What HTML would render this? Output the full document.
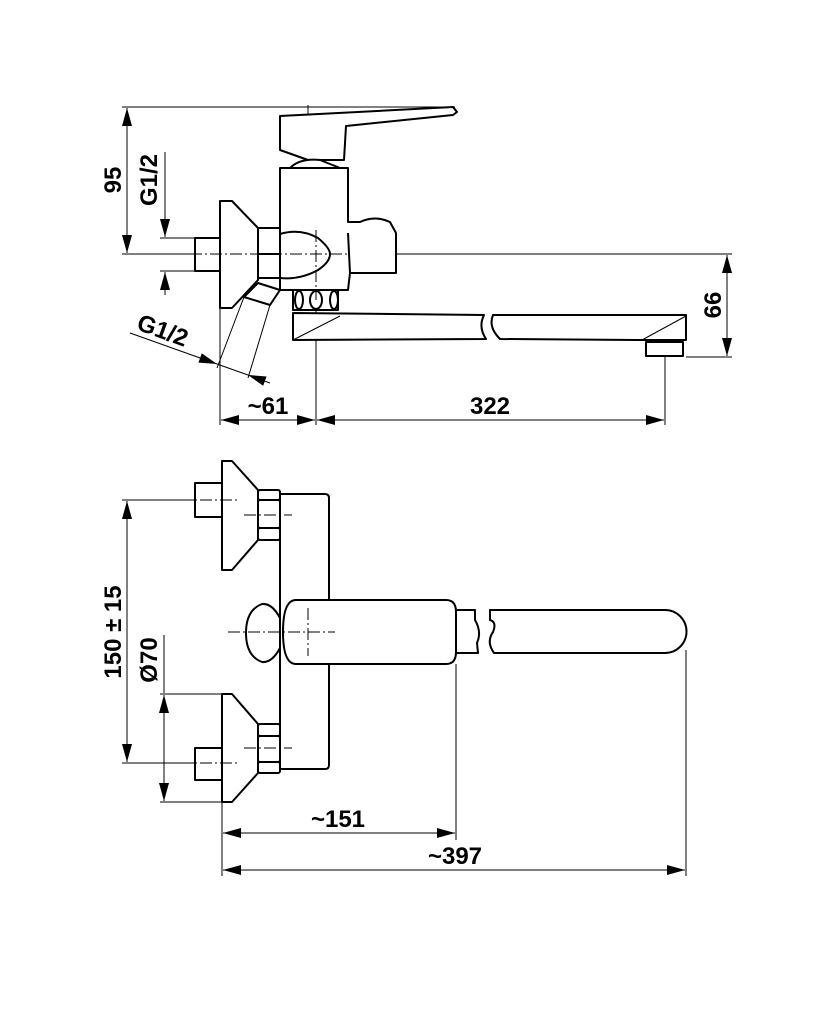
<!DOCTYPE html>
<html><head><meta charset="utf-8"><style>
html,body{margin:0;padding:0;background:#fff;}
svg{display:block;}
text{font-family:"Liberation Sans",sans-serif;font-weight:bold;font-size:24px;fill:#000;}
</style></head><body>
<svg width="833" height="1024" viewBox="0 0 833 1024" xmlns="http://www.w3.org/2000/svg">
<defs>
<marker id="a" viewBox="0 0 10 10" preserveAspectRatio="none" refX="10" refY="5" markerWidth="18" markerHeight="10" markerUnits="userSpaceOnUse" orient="auto-start-reverse"><path d="M0,0 L10,5 L0,10 Z" fill="#000"/></marker>
</defs>
<g fill="none" stroke="#000" stroke-width="1">
<line x1="122" y1="107" x2="455" y2="107"/>
<line x1="127" y1="108" x2="127" y2="253" marker-start="url(#a)" marker-end="url(#a)"/>
<line x1="122" y1="254" x2="732" y2="254"/>
<line x1="160" y1="238" x2="196" y2="238"/>
<line x1="160" y1="271" x2="196" y2="271"/>
<line x1="165" y1="152" x2="165" y2="237" marker-end="url(#a)"/>
<line x1="165" y1="295" x2="165" y2="272" marker-end="url(#a)"/>
<line x1="686" y1="357" x2="732" y2="357"/>
<line x1="727" y1="255" x2="727" y2="356" marker-start="url(#a)" marker-end="url(#a)"/>
<line x1="220" y1="308" x2="220" y2="425"/>
<line x1="316" y1="290" x2="316" y2="425"/>
<line x1="665" y1="345" x2="665" y2="425"/>
<line x1="221" y1="420" x2="315" y2="420" marker-start="url(#a)" marker-end="url(#a)"/>
<line x1="317" y1="420" x2="664" y2="420" marker-start="url(#a)"/>
<line x1="640" y1="420" x2="664" y2="420" marker-end="url(#a)"/>
<line x1="130" y1="333" x2="217" y2="364" marker-end="url(#a)"/>
<line x1="270" y1="383" x2="248" y2="375" marker-end="url(#a)"/>
<line x1="217" y1="364" x2="248" y2="375"/>
<line x1="308" y1="105" x2="308" y2="200" stroke-dasharray="12,3,2,3"/>
</g>
<g fill="#fff" stroke="#000" stroke-width="2" stroke-linejoin="round">
<path d="M280,116 L453,107 L457,112 L453,115 L346,126 L344,160 L308,160 L280,150 Z"/>
<path d="M290,168 Q300,158 320,160 L340,168 Z"/>
<path d="M280,168 L348,168 L348,222 L360,222 Q375,215 390,222 L396,233 L396,273 L350,273 L348,290 L280,290 Z"/>
<line x1="348" y1="233" x2="350" y2="273"/>
<path d="M280,234 Q300,228 318,238 Q330,248 330,254 Q330,262 318,270 Q300,280 280,278 Z"/>
<rect x="195" y="238" width="25" height="33"/>
<path d="M220,201 L232,201 L258,228 L258,280 L232,308 L220,308 Z"/>
<rect x="258" y="228" width="22" height="26"/>
<rect x="258" y="254" width="22" height="24"/>
<path d="M258,283 L280,290 L270,305 L244,297 Z"/>
<rect x="293" y="290" width="45" height="20"/>
<ellipse cx="299" cy="300" rx="4" ry="9"/>
<ellipse cx="316" cy="300" rx="6" ry="9"/>
<ellipse cx="334" cy="300" rx="4" ry="9"/>
<path d="M293,313 L484,315 Q478,327 486,339 L293,340 Z"/>
<path d="M493,315 L686,315 L686,340 L642,340 L500,339 Q488,327 493,315 Z"/>
<rect x="646" y="342" width="37" height="14"/>
</g>
<g fill="none" stroke="#000" stroke-width="1">
<line x1="244" y1="297" x2="217" y2="368"/>
<line x1="270" y1="305" x2="248" y2="378"/>
<line x1="293" y1="340" x2="340" y2="316"/>
<line x1="642" y1="340" x2="686" y2="316"/>
<line x1="190" y1="254" x2="350" y2="254" stroke-dasharray="12,3,2,3"/>
<line x1="316" y1="230" x2="316" y2="300" stroke-dasharray="12,3,2,3"/>
<line x1="122" y1="500" x2="195" y2="500"/>
<line x1="122" y1="763" x2="195" y2="763"/>
<line x1="127" y1="501" x2="127" y2="762" marker-start="url(#a)" marker-end="url(#a)"/>
<line x1="160" y1="694" x2="222" y2="694"/>
<line x1="160" y1="802" x2="222" y2="802"/>
<line x1="164" y1="635" x2="164" y2="693"/>
<line x1="164" y1="720" x2="164" y2="695" marker-end="url(#a)"/>
<line x1="164" y1="775" x2="164" y2="801" marker-end="url(#a)"/>
<line x1="164" y1="700" x2="164" y2="780"/>
<line x1="222" y1="802" x2="222" y2="876"/>
<line x1="456" y1="664" x2="456" y2="840"/>
<line x1="686" y1="650" x2="686" y2="876"/>
<line x1="223" y1="833" x2="455" y2="833" marker-start="url(#a)" marker-end="url(#a)"/>
<line x1="223" y1="870" x2="685" y2="870" marker-start="url(#a)" marker-end="url(#a)"/>
</g>
<g fill="#fff" stroke="#000" stroke-width="2" stroke-linejoin="round">
<rect x="195" y="483" width="27" height="34"/>
<path d="M222,461 L232,461 L258,490 L258,540 L232,570 L222,570 Z"/>
<rect x="258" y="490" width="22" height="10" rx="2"/>
<rect x="258" y="500" width="22" height="28" rx="2"/>
<rect x="258" y="528" width="22" height="12" rx="2"/>
<rect x="195" y="748" width="27" height="32"/>
<path d="M222,694 L232,694 L258,724 L258,773 L232,802 L222,802 Z"/>
<rect x="258" y="724" width="22" height="12" rx="2"/>
<rect x="258" y="736" width="22" height="26" rx="2"/>
<rect x="258" y="762" width="22" height="11" rx="2"/>
<path d="M280,494 L325,494 Q329,494 329,498 L329,765 Q329,769 325,769 L280,769 Z"/>
<path d="M280,618 Q272,603 262,604 Q246,610 246,633 Q246,656 262,662 Q272,663 280,648 Z"/>
<path d="M296,600 L446,600 Q456,600 456,612 L456,652 Q456,664 446,664 L296,664 Q283,664 283,632 Q283,600 296,600 Z"/>
<path d="M456,610 L475,610 L475,620 Q482,632 477,643 L478,653 L456,653 Z"/>
<path d="M490,610 L665,610 A21.5,21.5 0 0 1 665,653 L494,653 Q486,642 493,632 Q497,622 490,620 Z"/>
</g>
<g fill="none" stroke="#000" stroke-width="1" stroke-dasharray="12,3,2,3">
<line x1="180" y1="500" x2="240" y2="500"/>
<line x1="244" y1="515" x2="292" y2="515"/>
<line x1="180" y1="763" x2="240" y2="763"/>
<line x1="244" y1="748" x2="292" y2="748"/>
<line x1="228" y1="632" x2="335" y2="632"/>
<line x1="308" y1="608" x2="308" y2="656"/>
</g>
<text transform="translate(121,180) rotate(-90)" text-anchor="middle">95</text>
<text transform="translate(157,180) rotate(-90)" text-anchor="middle">G1/2</text>
<text transform="translate(721,305) rotate(-90)" text-anchor="middle">66</text>
<text transform="translate(160,338) rotate(20)" text-anchor="middle">G1/2</text>
<text x="268" y="414" text-anchor="middle">~61</text>
<text x="490" y="414" text-anchor="middle">322</text>
<text transform="translate(121,632) rotate(-90)" text-anchor="middle">150 ± 15</text>
<text transform="translate(157,660) rotate(-90)" text-anchor="middle">Ø70</text>
<text x="338" y="827" text-anchor="middle">~151</text>
<text x="455" y="864" text-anchor="middle">~397</text>
</svg>
</body></html>
